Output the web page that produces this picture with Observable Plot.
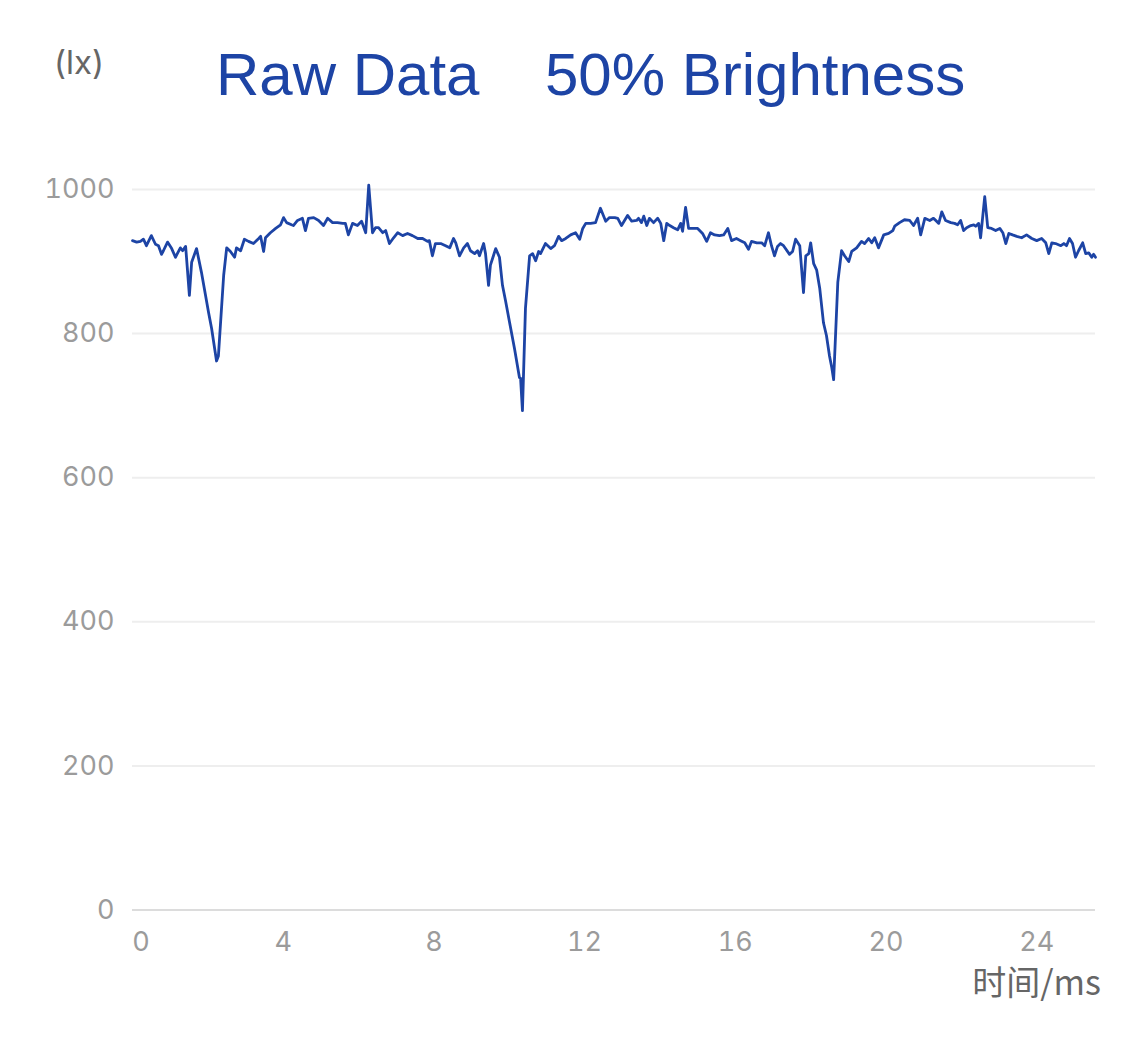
<!DOCTYPE html>
<html>
<head>
<meta charset="utf-8">
<script src="https://cdn.jsdelivr.net/npm/d3@7"></script>
<script src="https://cdn.jsdelivr.net/npm/@observablehq/plot@0.6"></script>
<style>
  html, body { margin: 0; padding: 0; background: #fff; }
  #wrap { position: relative; width: 1125px; height: 1040px; }
  .abs { position: absolute; white-space: pre; }
  .title { font-family: "Liberation Sans", Arial, sans-serif; font-size: 60px; line-height: 60px; color: #1d44a5; top: 45px; }
  #unit { font-family: Inter, "Liberation Sans", sans-serif; font-size: 33px; line-height: 33px; color: #666; left: 54px; top: 46px; }
  #xlab { font-family: "Noto Sans CJK SC", sans-serif; font-size: 34px; line-height: 30px; color: #666; right: 24px; top: 966px; }
  #chart { position: absolute; left: 0; top: 0; }
</style>
</head>
<body>
<div id="wrap">
  <div id="chart"></div>
  <div class="abs title" style="left:216px">Raw Data</div>
  <div class="abs title" style="left:545px">50% Brightness</div>
  <div class="abs" id="unit">(lx)</div>
  <div class="abs" id="xlab">时间/ms</div>
</div>
<script>
// time in ms
const timeMs = [
  0.00,0.11,0.21,0.29,0.37,0.50,0.61,0.69,0.77,0.82,0.93,1.04,1.14,1.27,1.33,1.41,1.43,1.51,1.57,1.70,1.83,2.02,2.10,2.23,2.28,2.42,2.50,2.60,2.71,2.76,2.87,2.97,3.08,3.21,3.35,3.40,3.48,3.53,3.66,3.80,3.93,4.01,4.09,4.22,
  4.27,4.38,4.51,4.59,4.67,4.81,4.94,5.07,5.18,5.31,5.44,5.58,5.65,5.73,5.84,5.97,6.08,6.19,6.27,6.37,6.45,6.53,6.64,6.72,6.82,6.93,7.04,7.17,7.30,7.43,7.57,7.70,7.83,7.88,7.96,8.04,8.18,8.31,8.42,8.52,
  8.58,8.68,8.79,8.89,8.97,9.08,9.16,9.21,9.32,9.37,9.45,9.50,9.58,9.64,9.74,9.82,9.90,10.01,10.14,10.27,10.30,10.35,10.43,10.54,10.62,10.70,10.78,10.83,10.96,11.10,11.20,11.31,11.39,11.50,11.63,11.76,11.87,11.95,12.03,12.16,12.29,12.42,12.56,12.66,12.80,
  12.88,12.98,13.14,13.25,13.38,13.43,13.51,13.57,13.65,13.72,13.83,13.94,14.02,14.10,14.18,14.26,14.36,14.47,14.55,14.60,14.68,14.76,14.87,15.00,15.13,15.24,15.34,15.45,15.58,15.69,15.80,15.90,16.03,16.14,16.25,16.35,16.43,16.57,16.70,16.78,16.88,16.96,17.04,17.12,
  17.20,17.28,17.44,17.52,17.60,17.71,17.81,17.87,17.95,18.00,18.08,18.16,18.24,18.34,18.42,18.50,18.56,18.61,18.72,18.82,18.90,19.01,19.09,19.22,19.35,19.43,19.54,19.62,19.70,19.80,19.94,20.07,20.18,20.23,20.36,20.49,20.63,20.73,20.84,20.92,21.03,21.16,21.26,21.40,21.48,
  21.58,21.72,21.82,21.90,21.98,22.06,22.14,22.25,22.33,22.38,22.46,22.51,22.62,22.70,22.80,22.91,23.02,23.10,23.18,23.26,23.36,23.47,23.60,23.73,23.87,24.00,24.13,24.24,24.32,24.40,24.50,24.64,24.72,24.79,24.87,24.95,25.03,25.11,25.22,25.30,25.38,25.46,25.51,25.56
];
// illuminance in lx
const lux = [
  929,927,928,931,922,936,924,922,910,915,927,918,906,919,915,921,908,853,899,918,885,829,807,762,769,881,919,914,906,919,915,931,928,925,932,935,914,933,940,946,951,961,954,951,
  950,957,960,943,960,961,957,950,960,954,954,953,953,937,953,950,956,940,1006,940,947,947,940,943,925,933,940,936,939,936,932,932,928,929,908,925,925,922,919,932,
  926,908,919,925,915,911,915,908,925,911,867,895,908,918,906,867,846,815,779,739,738,693,835,908,911,901,914,911,925,918,922,935,929,932,937,940,931,946,953,953,954,974,956,961,961,
  960,950,964,956,957,960,954,963,950,960,954,960,953,929,953,950,947,944,953,942,975,946,946,946,939,928,940,937,936,937,946,929,932,929,926,917,928,926,926,922,940,922,908,921,
  925,922,910,914,931,922,857,908,911,926,897,888,863,815,797,769,753,736,871,915,908,900,914,919,928,925,932,926,933,919,937,939,943,949,954,958,957,950,960,937,960,957,960,953,969,
  957,954,953,951,957,943,947,950,951,949,953,933,990,947,946,943,946,940,925,939,937,935,933,937,932,929,932,926,911,926,925,922,925,922,932,925,906,915,926,911,912,906,910,906
];
const xTicks = [0, 4, 8, 12, 16, 20, 24];
const yTicks = [0, 200, 400, 600, 800, 1000];
const xDomain = [0, 25.56];
const yDomain = [0, 1000];

const data = timeMs.map((t, i) => ({t, v: lux[i]}));

const chart = Plot.plot({
  width: 1125,
  height: 1040,
  marginLeft: 132,
  marginRight: 30,
  marginTop: 189,
  marginBottom: 130.5,
  style: {background: "transparent", fontFamily: "Inter, 'Liberation Sans', sans-serif"},
  x: {domain: xDomain},
  y: {domain: yDomain},
  marks: [
    Plot.gridY(yTicks.filter(d => d !== 0), {stroke: "#eeeeee", strokeOpacity: 1, strokeWidth: 2}),
    Plot.ruleY([0], {stroke: "#dcdcdc", strokeWidth: 2}),
    Plot.axisY(yTicks, {tickSize: 0, tickPadding: 18, fontSize: 27, fill: "#9b9b9b", label: null, tickFormat: d => String(d)}),
    Plot.axisX(xTicks.filter(d => d !== 0), {tickSize: 0, tickPadding: 22, fontSize: 27, fill: "#9b9b9b", label: null, tickFormat: d => String(d)}),
    Plot.text(xTicks.filter(d => d === 0), {x: d => d, frameAnchor: "bottom", textAnchor: "start", lineAnchor: "top", dy: 22, text: d => String(d), fontSize: 27, fill: "#9b9b9b"}),
    Plot.line(data, {x: "t", y: "v", stroke: "#1d44a5", strokeWidth: 2.8, strokeLinejoin: "round"})
  ]
});
document.getElementById("chart").appendChild(chart);
</script>
</body>
</html>
